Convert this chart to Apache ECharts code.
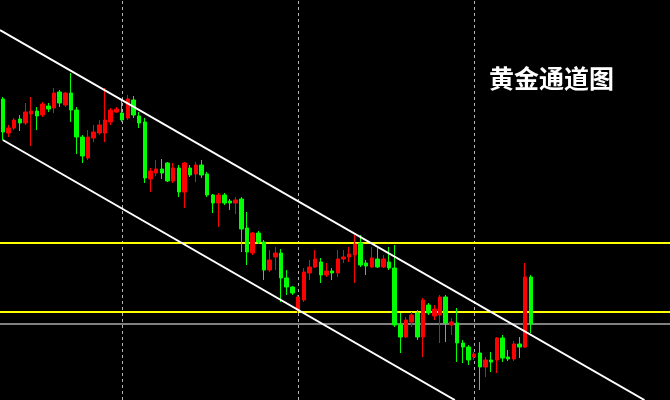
<!DOCTYPE html>
<html>
<head>
<meta charset="utf-8">
<script src="https://cdn.jsdelivr.net/npm/echarts@6/dist/echarts.min.js"></script>
<style>html,body{margin:0;padding:0;background:#000;}#c{width:670px;height:400px;}</style>
</head>
<body>
<div id="c"></div>
<script>
var titleText = '黄金通道图';
var slotCount = 118;
var opens  = [301,267,272,281,277,286,289,285,294,292,308,295,307,290,263,242,262,267,267,278,288,287,282,300,284,278,221,227,231,237,219,232,208,232,226,235,226,205,197,205,199,197,201,172,147,167,158,130,143,147,122,113,90,100,127,133,138,125,129,127,141,143,145,157,137,133,141,133,138,132,75,63,78,87,63,95,84,85,103,75,77,57,53,43,47,33,40,40,62,43,41,56,53,123];
var closes = [268,272,280,277,288,289,284,296,291,307,297,307,290,263,244,263,268,275,280,290,291,280,301,285,277,222,229,231,227,219,232,208,237,225,235,225,205,197,205,197,197,200,171,148,167,158,130,140,147,122,113,107,103,128,133,141,125,129,127,141,143,146,156,135,134,142,133,141,132,75,63,80,85,63,100,87,91,103,77,78,57,53,40,46,33,40,38,62,42,41,56,53,123,76];
var lows   = [260,263,270,269,275,254,270,283,288,287,293,293,278,246,237,240,258,265,258,275,287,278,280,282,272,217,208,224,221,218,217,203,192,223,218,222,203,187,173,195,190,186,148,135,145,156,120,128,130,98,105,105,87,98,120,132,117,123,120,123,137,138,117,133,125,132,132,132,130,73,47,62,73,60,43,85,80,57,58,65,38,37,35,40,10,23,28,27,38,39,39,42,52,67];
var highs  = [303,275,282,285,297,303,293,298,297,312,310,308,327,293,265,270,275,280,312,292,293,300,305,304,288,282,232,240,241,238,237,235,238,235,238,240,228,206,207,207,201,203,203,188,168,169,160,150,153,151,130,114,105,132,140,150,142,137,132,150,150,153,165,165,140,153,152,145,153,155,87,83,88,90,102,97,95,105,105,82,92,60,55,48,58,43,48,63,65,50,59,63,137,125];
var upperChannel = [[-0.5, 370], [113, 0]];
var lowerChannel = [[0, 260], [79.6, 0]];
var yellowLevels = [157.5, 87.8];
var priceLine = 76;
var separators = [21, 52, 83];

var categories = [];
for (var i = 0; i < slotCount; i++) categories.push(String(i + 1));
var candles = opens.map(function (o, k) { return [o, closes[k], lows[k], highs[k]]; });

var markData = [];
separators.forEach(function (s) {
  markData.push({ xAxis: s, lineStyle: { color: '#b4b4b4', width: 1, type: [3, 3] } });
});
yellowLevels.forEach(function (v) {
  markData.push({ yAxis: v, lineStyle: { color: '#ffff00', width: 2, type: 'solid' } });
});
markData.push({ yAxis: priceLine, lineStyle: { color: '#808080', width: 2, type: 'solid' } });

var chart = echarts.init(document.getElementById('c'), null, { renderer: 'canvas' });
chart.setOption({
  backgroundColor: '#000000',
  animation: false,
  title: {
    text: titleText, left: 484, top: 61,
    textStyle: { color: '#ffffff', fontSize: 25, fontWeight: 'bold', fontFamily: 'Noto Sans CJK SC' }
  },
  grid: { left: 0, right: 0, top: 0, bottom: 0 },
  xAxis: [
    { type: 'category', data: categories, boundaryGap: true, show: false },
    { type: 'value', min: -0.5, max: slotCount - 0.5, show: false }
  ],
  yAxis: { type: 'value', min: 0, max: 400, show: false },
  series: [
    {
      type: 'candlestick', data: candles, barWidth: 4,
      itemStyle: { color: '#ff0000', color0: '#00ff00', borderColor: '#ff0000', borderColor0: '#00ff00', borderWidth: 1 },
      markLine: { silent: true, symbol: ['none', 'none'], label: { show: false }, data: markData, z: 1 }
    },
    { type: 'line', xAxisIndex: 1, data: upperChannel, symbol: 'none', z: 5, lineStyle: { color: '#ffffff', width: 2 } },
    { type: 'line', xAxisIndex: 1, data: lowerChannel, symbol: 'none', z: 5, lineStyle: { color: '#ffffff', width: 2 } }
  ]
});
</script>
</body>
</html>
